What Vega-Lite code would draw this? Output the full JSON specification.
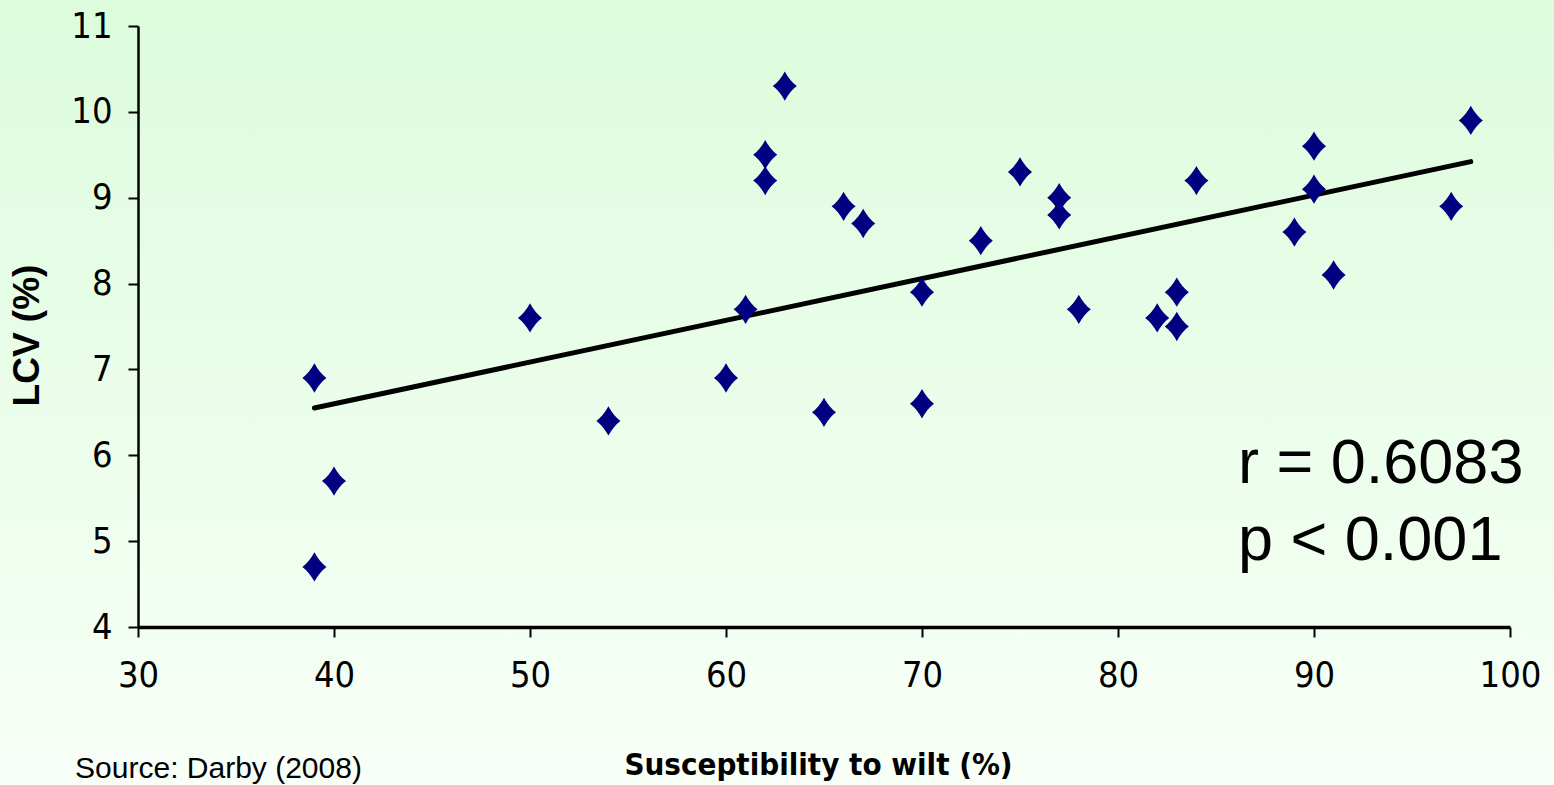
{
  "$schema": "https://vega.github.io/schema/vega-lite/v6.json",
  "width": 1554,
  "height": 785,
  "autosize": {"type": "none"},
  "padding": 0,
  "background": "#eefdee",
  "config": {
    "view": {
      "stroke": null,
      "fill": {"gradient": "linear", "x1": 0, "y1": 0, "x2": 0, "y2": 1,
        "stops": [{"offset": 0, "color": "#dcfcdc"}, {"offset": 1, "color": "#f8fff8"}]}
    },
    "font": "Liberation Sans"
  },
  "datasets": {
    "points": [
      {"wilt": 39, "lcv": 6.9}, {"wilt": 40, "lcv": 5.7}, {"wilt": 39, "lcv": 4.7},
      {"wilt": 50, "lcv": 7.6}, {"wilt": 54, "lcv": 6.4}, {"wilt": 60, "lcv": 6.9},
      {"wilt": 61, "lcv": 7.7}, {"wilt": 62, "lcv": 9.5}, {"wilt": 62, "lcv": 9.2},
      {"wilt": 63, "lcv": 10.3}, {"wilt": 65, "lcv": 6.5}, {"wilt": 66, "lcv": 8.9},
      {"wilt": 67, "lcv": 8.7}, {"wilt": 70, "lcv": 7.9}, {"wilt": 70, "lcv": 6.6},
      {"wilt": 73, "lcv": 8.5}, {"wilt": 75, "lcv": 9.3}, {"wilt": 77, "lcv": 9.0},
      {"wilt": 77, "lcv": 8.8}, {"wilt": 78, "lcv": 7.7}, {"wilt": 82, "lcv": 7.6},
      {"wilt": 83, "lcv": 7.9}, {"wilt": 83, "lcv": 7.5}, {"wilt": 84, "lcv": 9.2},
      {"wilt": 89, "lcv": 8.6}, {"wilt": 90, "lcv": 9.6}, {"wilt": 90, "lcv": 9.1},
      {"wilt": 91, "lcv": 8.1}, {"wilt": 97, "lcv": 8.9}, {"wilt": 98, "lcv": 9.9}
    ],
    "trend": [{"wilt": 39, "lcv": 6.55}, {"wilt": 98, "lcv": 9.42}],
    "notes": [
      {"label": "r = 0.6083", "kind": "stat1"},
      {"label": "p < 0.001", "kind": "stat2"},
      {"label": "Source: Darby (2008)", "kind": "source"}
    ]
  },
  "layer": [
    {
      "data": {"name": "trend"},
      "mark": {"type": "line", "color": "black", "strokeWidth": 5, "strokeCap": "round"},
      "encoding": {
        "x": {
          "field": "wilt", "type": "quantitative",
          "scale": {"domain": [30, 100], "range": [138, 1510], "nice": false, "zero": false},
          "axis": {
            "values": [30, 40, 50, 60, 70, 80, 90, 100], "format": "d", "offset": -158, "grid": false, "labelFlush": false,
            "domainColor": "black", "domainWidth": 3.5, "tickColor": "black", "tickWidth": 2, "tickSize": 10,
            "labelFont": "DejaVu Sans Condensed", "labelFontSize": 36, "labelColor": "black", "labelPadding": 21,
            "title": "Susceptibility to wilt (%)", "titleFont": "DejaVu Sans Condensed", "titleFontWeight": "bold",
            "titleFontSize": 31, "titleColor": "black", "titleX": 818, "titleY": 147, "titleBaseline": "alphabetic", "titleAlign": "center"
          }
        },
        "y": {
          "field": "lcv", "type": "quantitative",
          "scale": {"domain": [4, 11], "range": [627, 26], "nice": false, "zero": false},
          "axis": {
            "values": [4, 5, 6, 7, 8, 9, 10, 11], "format": "d", "offset": -138, "grid": false, "labelFlush": false,
            "domainColor": "black", "domainWidth": 2.5, "tickColor": "black", "tickWidth": 2, "tickSize": 10,
            "labelFont": "DejaVu Sans Condensed", "labelFontSize": 36, "labelColor": "black", "labelPadding": 16,
            "title": "LCV (%)", "titleFont": "Liberation Sans", "titleFontWeight": "bold", "titleFontSize": 37,
            "titleColor": "black", "titleAngle": -90, "titleX": -92, "titleY": 335, "titleAlign": "center", "titleBaseline": "bottom"
          }
        }
      }
    },
    {
      "data": {"name": "points"},
      "mark": {"type": "point", "filled": true, "opacity": 1, "color": "#000080", "size": 860,
        "shape": "M0,-1 Q0.35,-0.35 0.82,0 Q0.35,0.35 0,1 Q-0.35,0.35 -0.82,0 Q-0.35,-0.35 0,-1 Z"},
      "encoding": {
        "x": {"field": "wilt", "type": "quantitative"},
        "y": {"field": "lcv", "type": "quantitative"}
      }
    },
    {
      "data": {"name": "notes"},
      "transform": [{"filter": "datum.kind === 'stat1'"}],
      "mark": {"type": "text", "align": "left", "baseline": "alphabetic", "fontSize": 63, "color": "black", "font": "Liberation Sans"},
      "encoding": {
        "text": {"field": "label"},
        "x": {"datum": 86.12, "type": "quantitative"},
        "y": {"datum": 5.68, "type": "quantitative"}
      }
    },
    {
      "data": {"name": "notes"},
      "transform": [{"filter": "datum.kind === 'stat2'"}],
      "mark": {"type": "text", "align": "left", "baseline": "alphabetic", "fontSize": 63, "color": "black", "font": "Liberation Sans"},
      "encoding": {
        "text": {"field": "label"},
        "x": {"datum": 86.12, "type": "quantitative"},
        "y": {"datum": 4.78, "type": "quantitative"}
      }
    },
    {
      "data": {"name": "notes"},
      "transform": [{"filter": "datum.kind === 'source'"}],
      "mark": {"type": "text", "align": "left", "baseline": "alphabetic", "fontSize": 30, "color": "black", "font": "Liberation Sans"},
      "encoding": {
        "text": {"field": "label"},
        "x": {"datum": 26.79, "type": "quantitative"},
        "y": {"datum": 2.24, "type": "quantitative"}
      }
    }
  ]
}
